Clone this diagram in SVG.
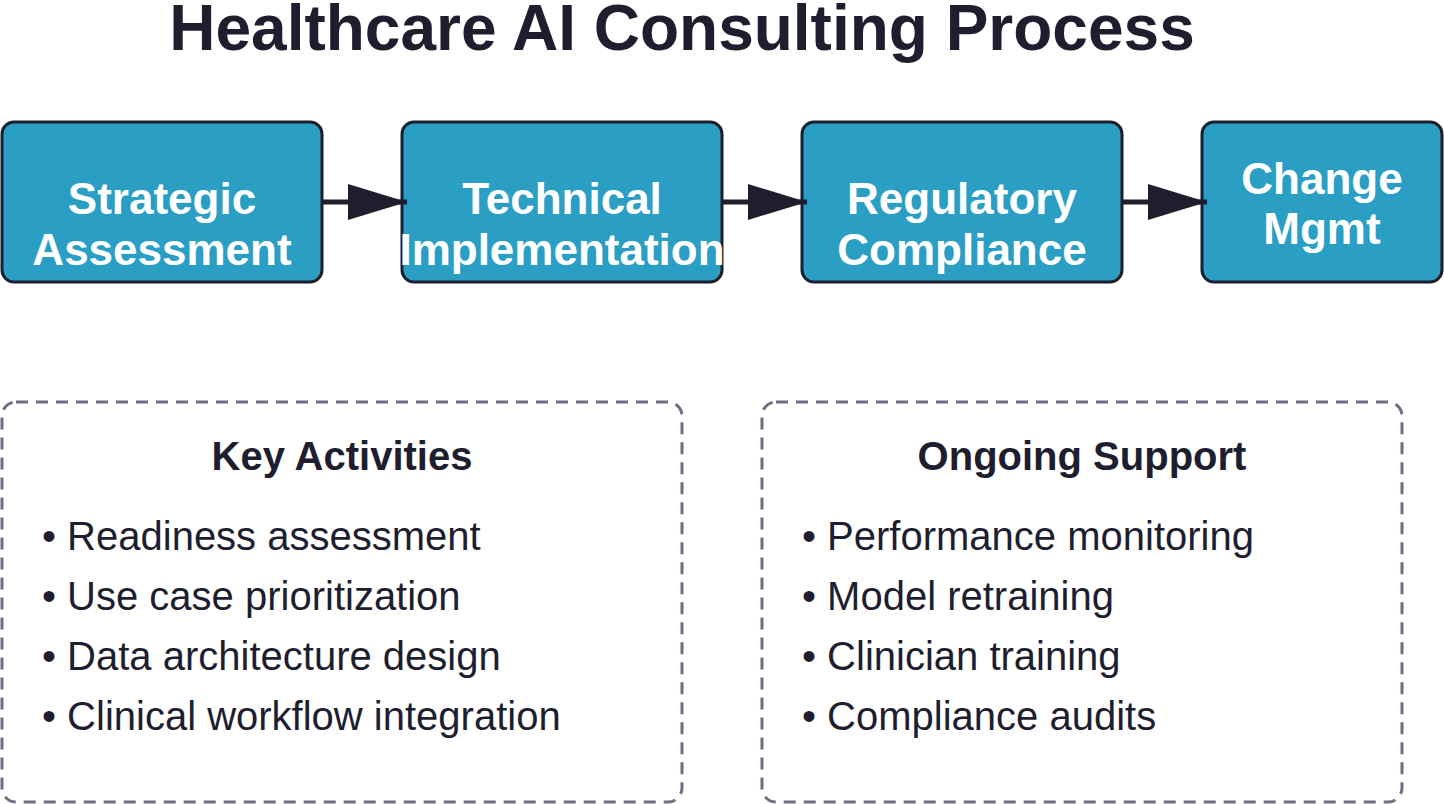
<svg xmlns="http://www.w3.org/2000/svg" width="1444" height="804" viewBox="0 0 1444 804">
<defs>
<style>
.title{font-family:"Liberation Sans",Arial,sans-serif;font-weight:bold;font-size:64px;fill:#1e1e2e;text-anchor:middle}
.node rect{fill:#2b9ec4;stroke:#1e1e2e;stroke-width:3}
.node text{font-family:"Liberation Sans",Arial,sans-serif;font-weight:bold;font-size:44px;fill:#ffffff;text-anchor:middle}
.panel rect{fill:none;stroke:#6e6e85;stroke-width:3;stroke-dasharray:12 8}
.panel .head{font-family:"Liberation Sans",Arial,sans-serif;font-weight:bold;font-size:40px;fill:#1e1e2e;text-anchor:middle}
.panel .item{font-family:"Liberation Sans",Arial,sans-serif;font-size:40px;fill:#1e1e2e}
.conn line{stroke:#1e1e2e;stroke-width:5}
</style>
<marker id="arr" markerUnits="userSpaceOnUse" markerWidth="60" markerHeight="36" refX="59" refY="18" orient="auto">
<path d="M0,0 L59,18 L0,36 Z" fill="#1e1e2e"/>
</marker>
</defs>
<rect width="1444" height="804" fill="#ffffff"/>
<text class="title" x="682" y="50">Healthcare AI Consulting Process</text>
<g id="n1" class="node">
<rect x="2" y="122" width="320" height="160" rx="12"/>
<text x="162" y="214">Strategic</text>
<text x="162" y="265">Assessment</text>
</g>
<g id="n2" class="node">
<rect x="402" y="122" width="320" height="160" rx="12"/>
<text x="562" y="214">Technical</text>
<text x="562" y="265">Implementation</text>
</g>
<g id="n3" class="node">
<rect x="802" y="122" width="320" height="160" rx="12"/>
<text x="962" y="214">Regulatory</text>
<text x="962" y="265">Compliance</text>
</g>
<g id="n4" class="node">
<rect x="1202" y="122" width="240" height="160" rx="12"/>
<text x="1322" y="194">Change</text>
<text x="1322" y="244">Mgmt</text>
</g>
<g id="connectors" class="conn">
<line x1="322" y1="202" x2="407" y2="202" marker-end="url(#arr)"/>
<line x1="722" y1="202" x2="807" y2="202" marker-end="url(#arr)"/>
<line x1="1122" y1="202" x2="1207" y2="202" marker-end="url(#arr)"/>
</g>
<g id="panel1" class="panel">
<rect x="2" y="402" width="680" height="400" rx="14"/>
<text class="head" x="342" y="470">Key Activities</text>
<text class="item" x="42" y="550">• Readiness assessment</text>
<text class="item" x="42" y="610">• Use case prioritization</text>
<text class="item" x="42" y="670">• Data architecture design</text>
<text class="item" x="42" y="730">• Clinical workflow integration</text>
</g>
<g id="panel2" class="panel">
<rect x="762" y="402" width="640" height="400" rx="14"/>
<text class="head" x="1082" y="470">Ongoing Support</text>
<text class="item" x="802" y="550">• Performance monitoring</text>
<text class="item" x="802" y="610">• Model retraining</text>
<text class="item" x="802" y="670">• Clinician training</text>
<text class="item" x="802" y="730">• Compliance audits</text>
</g>
</svg>
